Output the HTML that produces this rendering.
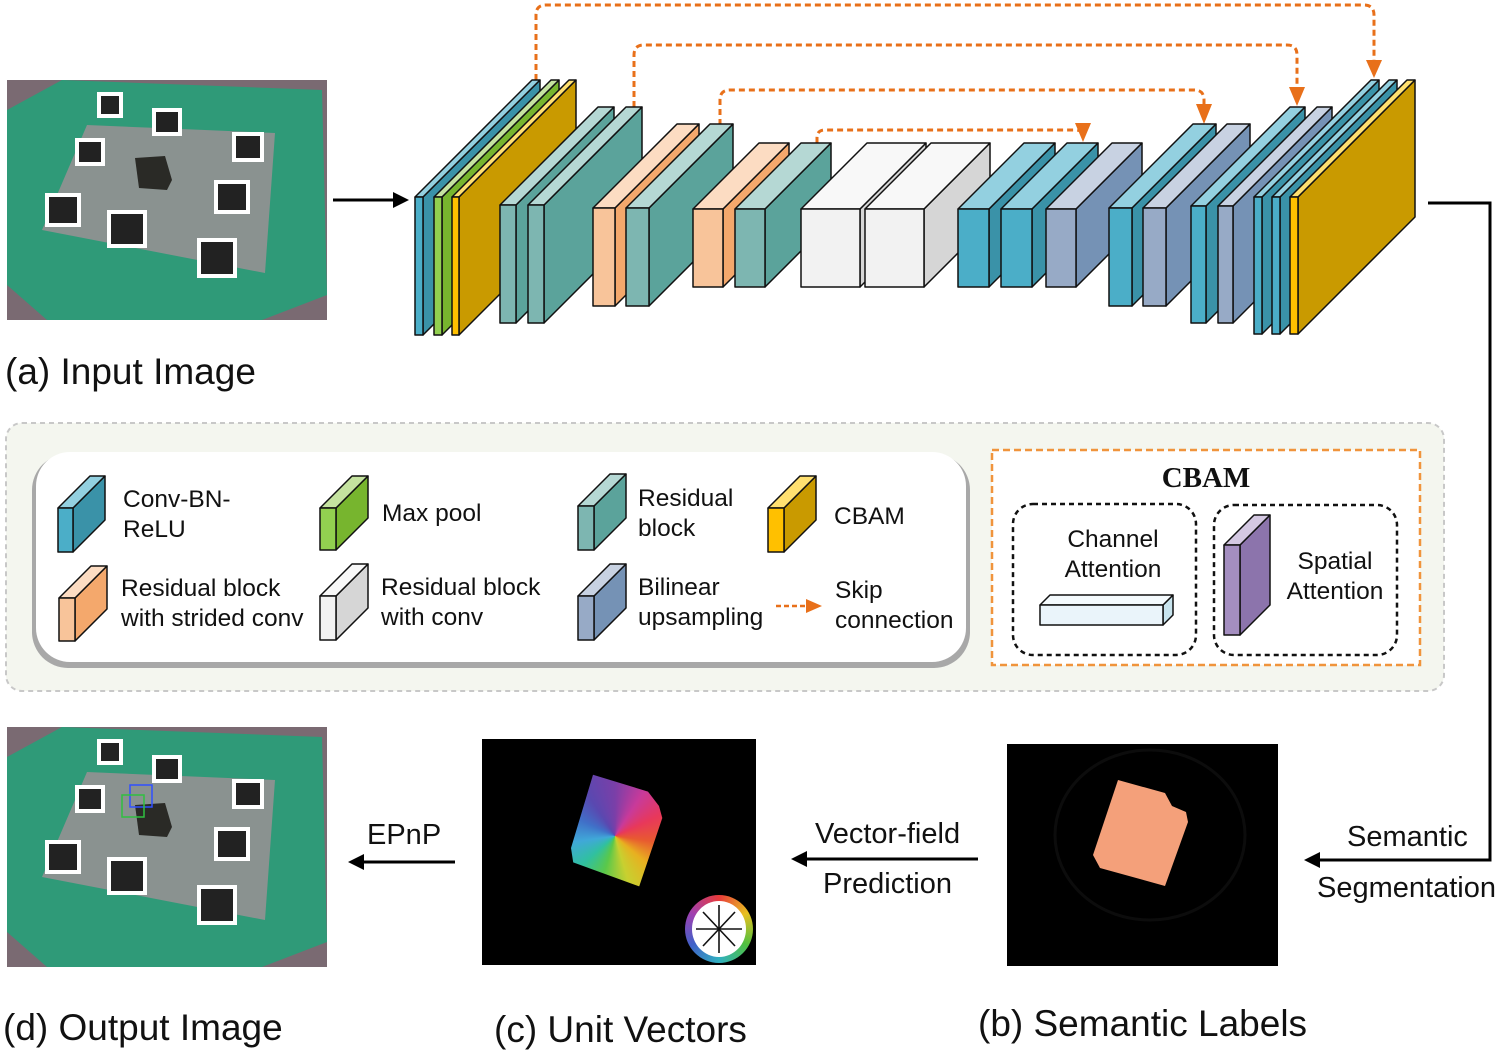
<!DOCTYPE html>
<html><head><meta charset="utf-8"><style>
html,body{margin:0;padding:0;background:#fff;}
#c{position:relative;width:1500px;height:1052px;overflow:hidden;font-family:"Liberation Sans",Arial,sans-serif;}
svg{position:absolute;left:0;top:0;}
.uv{position:absolute;left:560px;top:770px;width:110px;height:120px;background:conic-gradient(from 0deg at 50% 55%,#7a3fa8,#c83a9a,#e8385a,#e85a30,#e8b020,#c8d030,#5ac84a,#30c0a0,#40a8d8,#4070c8,#5a48b0,#7a3fa8);clip-path:polygon(30% 4%,80% 18%,90% 30%,93% 40%,72% 97%,12% 77%,10% 65%);}
.wheel{position:absolute;left:685px;top:895px;width:68px;height:68px;border-radius:50%;background:conic-gradient(#e83a3a,#e8c020,#50c040,#30b0c0,#4060c8,#a040b0,#e83a3a);}
.wheel div{position:absolute;left:7px;top:6px;width:54px;height:56px;border-radius:50%;background:#fff;}
.k rect{stroke:#111;stroke-width:1.5;stroke-linejoin:round;vector-effect:non-scaling-stroke;}
.b .f{fill:#4BAEC8}.b .s{fill:#3A92A8}.b .t{fill:#93D0E0}
.g .f{fill:#92D050}.g .s{fill:#77B52E}.g .t{fill:#C5E3A0}
.y .f{fill:#FFC000}.y .s{fill:#C99A00}.y .t{fill:#FFE070}
.e .f{fill:#7DB6B1}.e .s{fill:#5BA39B}.e .t{fill:#B5D8D4}
.o .f{fill:#F8C49A}.o .s{fill:#F4A86C}.o .t{fill:#FCDCC2}
.w .f{fill:#F2F2F2}.w .s{fill:#D6D6D6}.w .t{fill:#F8F8F8}
.l .f{fill:#97AAC6}.l .s{fill:#7592B5}.l .t{fill:#C8D2E2}
.p .f{fill:#A48EC0}.p .s{fill:#8C74AC}.p .t{fill:#D4C8E2}
.c .f{fill:#EAF4FA}.c .s{fill:#C8E4EE}.c .t{fill:#F4FAFD}
</style></head><body><div id="c">
<svg width="1500" height="1052" viewBox="0 0 1500 1052" xmlns="http://www.w3.org/2000/svg">
<defs>
<marker id="ah" markerWidth="16" markerHeight="16" refX="12" refY="8" orient="auto" markerUnits="userSpaceOnUse"><path d="M0,0 L16,8 L0,16 z" fill="#000"/></marker>
<g id="photo">
<rect x="0" y="0" width="320" height="240" fill="#7a6a72"/>
<polygon points="55,0 315,10 320,215 255,240 40,240 0,205 0,30" fill="#2f9a78"/>
<polygon points="80,45 268,53 258,193 35,150" fill="#8a9290"/>
<rect x="90" y="12" width="26" height="26" fill="#fff"/><rect x="94" y="16" width="18" height="18" fill="#222"/>
<rect x="145" y="28" width="30" height="28" fill="#fff"/><rect x="149" y="32" width="22" height="20" fill="#222"/>
<rect x="225" y="52" width="32" height="30" fill="#fff"/><rect x="229" y="56" width="24" height="22" fill="#222"/>
<rect x="68" y="58" width="30" height="28" fill="#fff"/><rect x="72" y="62" width="22" height="20" fill="#222"/>
<rect x="207" y="100" width="36" height="34" fill="#fff"/><rect x="211" y="104" width="28" height="26" fill="#222"/>
<rect x="38" y="113" width="36" height="34" fill="#fff"/><rect x="42" y="117" width="28" height="26" fill="#222"/>
<rect x="100" y="130" width="40" height="38" fill="#fff"/><rect x="104" y="134" width="32" height="30" fill="#222"/>
<rect x="190" y="158" width="40" height="40" fill="#fff"/><rect x="194" y="162" width="32" height="32" fill="#222"/>
<polygon points="128,78 158,76 165,100 160,110 132,108" fill="#2a2a26"/>
</g>
</defs>

<use href="#photo" x="7" y="80"/>
<use href="#photo" x="7" y="727"/>
<rect x="130" y="785" width="22" height="22" fill="none" stroke="#3050ff" stroke-width="1.5"/>
<rect x="122" y="795" width="22" height="22" fill="none" stroke="#30c040" stroke-width="1.5"/>

<g fill="none" stroke="#E8701A" stroke-width="3" stroke-dasharray="6,4">
<path d="M536,80 V15 Q536,5 546,5 H1364 Q1374,5 1374,15 V62"/>
<path d="M634,107 V55 Q634,45 644,45 H1287 Q1297,45 1297,55 V90"/>
<path d="M720,125 V100 Q720,90 730,90 H1194 Q1204,90 1204,100 V108"/>
<path d="M817,143 V138 Q817,130 825,130 H1075 Q1083,130 1083,136"/>
</g>
<g fill="#E8701A">
<polygon points="1366,60 1382,60 1374,78"/>
<polygon points="1289,87 1305,87 1297,106"/>
<polygon points="1196,104 1212,104 1204,124"/>
<polygon points="1075,123 1091,123 1083,142"/>
</g>

<g class="k">
<g class="b" transform="translate(415,197)"><rect class="s" transform="translate(8,0) skewY(-45)" width="117" height="138"/><rect class="t" transform="skewX(-45)" y="-117" width="8" height="117"/><rect class="f" width="8" height="138"/></g>
<g class="g" transform="translate(434,197)"><rect class="s" transform="translate(8,0) skewY(-45)" width="117" height="138"/><rect class="t" transform="skewX(-45)" y="-117" width="8" height="117"/><rect class="f" width="8" height="138"/></g>
<g class="y" transform="translate(452,197)"><rect class="s" transform="translate(7,0) skewY(-45)" width="117" height="138"/><rect class="t" transform="skewX(-45)" y="-117" width="7" height="117"/><rect class="f" width="7" height="138"/></g>
<g class="e" transform="translate(500,205)"><rect class="s" transform="translate(16,0) skewY(-45)" width="98" height="118"/><rect class="t" transform="skewX(-45)" y="-98" width="16" height="98"/><rect class="f" width="16" height="118"/></g>
<g class="e" transform="translate(528,205)"><rect class="s" transform="translate(16,0) skewY(-45)" width="98" height="118"/><rect class="t" transform="skewX(-45)" y="-98" width="16" height="98"/><rect class="f" width="16" height="118"/></g>
<g class="o" transform="translate(593,208)"><rect class="s" transform="translate(22,0) skewY(-45)" width="84" height="98"/><rect class="t" transform="skewX(-45)" y="-84" width="22" height="84"/><rect class="f" width="22" height="98"/></g>
<g class="e" transform="translate(626,208)"><rect class="s" transform="translate(23,0) skewY(-45)" width="84" height="98"/><rect class="t" transform="skewX(-45)" y="-84" width="23" height="84"/><rect class="f" width="23" height="98"/></g>
<g class="o" transform="translate(693,209)"><rect class="s" transform="translate(30,0) skewY(-45)" width="66" height="78"/><rect class="t" transform="skewX(-45)" y="-66" width="30" height="66"/><rect class="f" width="30" height="78"/></g>
<g class="e" transform="translate(735,209)"><rect class="s" transform="translate(30,0) skewY(-45)" width="66" height="78"/><rect class="t" transform="skewX(-45)" y="-66" width="30" height="66"/><rect class="f" width="30" height="78"/></g>
<g class="w" transform="translate(801,209)"><rect class="s" transform="translate(59,0) skewY(-45)" width="66" height="78"/><rect class="t" transform="skewX(-45)" y="-66" width="59" height="66"/><rect class="f" width="59" height="78"/></g>
<g class="w" transform="translate(865,209)"><rect class="s" transform="translate(59,0) skewY(-45)" width="66" height="78"/><rect class="t" transform="skewX(-45)" y="-66" width="59" height="66"/><rect class="f" width="59" height="78"/></g>
<g class="b" transform="translate(958,209)"><rect class="s" transform="translate(31,0) skewY(-45)" width="66" height="78"/><rect class="t" transform="skewX(-45)" y="-66" width="31" height="66"/><rect class="f" width="31" height="78"/></g>
<g class="b" transform="translate(1001,209)"><rect class="s" transform="translate(31,0) skewY(-45)" width="66" height="78"/><rect class="t" transform="skewX(-45)" y="-66" width="31" height="66"/><rect class="f" width="31" height="78"/></g>
<g class="l" transform="translate(1046,209)"><rect class="s" transform="translate(30,0) skewY(-45)" width="66" height="78"/><rect class="t" transform="skewX(-45)" y="-66" width="30" height="66"/><rect class="f" width="30" height="78"/></g>
<g class="b" transform="translate(1109,208)"><rect class="s" transform="translate(23,0) skewY(-45)" width="84" height="98"/><rect class="t" transform="skewX(-45)" y="-84" width="23" height="84"/><rect class="f" width="23" height="98"/></g>
<g class="l" transform="translate(1143,208)"><rect class="s" transform="translate(23,0) skewY(-45)" width="84" height="98"/><rect class="t" transform="skewX(-45)" y="-84" width="23" height="84"/><rect class="f" width="23" height="98"/></g>
<g class="b" transform="translate(1191,206)"><rect class="s" transform="translate(15,0) skewY(-45)" width="99" height="117"/><rect class="t" transform="skewX(-45)" y="-99" width="15" height="99"/><rect class="f" width="15" height="117"/></g>
<g class="l" transform="translate(1218,206)"><rect class="s" transform="translate(15,0) skewY(-45)" width="99" height="117"/><rect class="t" transform="skewX(-45)" y="-99" width="15" height="99"/><rect class="f" width="15" height="117"/></g>
<g class="b" transform="translate(1254,197)"><rect class="s" transform="translate(8,0) skewY(-45)" width="117" height="137"/><rect class="t" transform="skewX(-45)" y="-117" width="8" height="117"/><rect class="f" width="8" height="137"/></g>
<g class="b" transform="translate(1272,197)"><rect class="s" transform="translate(8,0) skewY(-45)" width="117" height="137"/><rect class="t" transform="skewX(-45)" y="-117" width="8" height="117"/><rect class="f" width="8" height="137"/></g>
<g class="y" transform="translate(1290,197)"><rect class="s" transform="translate(8,0) skewY(-45)" width="117" height="137"/><rect class="t" transform="skewX(-45)" y="-117" width="8" height="117"/><rect class="f" width="8" height="137"/></g>
</g>

<line x1="333" y1="200" x2="405" y2="200" stroke="#000" stroke-width="3" marker-end="url(#ah)"/>
<polyline points="1428,203 1490,203 1490,860 1308,860" fill="none" stroke="#000" stroke-width="3" marker-end="url(#ah)"/>
<line x1="978" y1="859" x2="795" y2="859" stroke="#000" stroke-width="3" marker-end="url(#ah)"/>
<line x1="455" y1="862" x2="352" y2="862" stroke="#000" stroke-width="3" marker-end="url(#ah)"/>

<rect x="6" y="423" width="1438" height="268" rx="16" fill="#f4f6ef" stroke="#c8c8c8" stroke-width="2" stroke-dasharray="5,4"/>
<rect x="32" y="454" width="938" height="214" rx="36" fill="#a8a8a8"/>
<rect x="36" y="452" width="930" height="210" rx="34" fill="#fff"/>
<rect x="992" y="450" width="428" height="215" fill="#fff" stroke="#F0943C" stroke-width="2.5" stroke-dasharray="7,4"/>
<rect x="1013" y="504" width="183" height="151" rx="20" fill="none" stroke="#111" stroke-width="2.5" stroke-dasharray="5,4"/>
<rect x="1214" y="505" width="183" height="150" rx="20" fill="none" stroke="#111" stroke-width="2.5" stroke-dasharray="5,4"/>
<g class="k">
<g class="b" transform="translate(58,508)"><rect class="s" transform="translate(15,0) skewY(-45)" width="32" height="44"/><rect class="t" transform="skewX(-45)" y="-32" width="15" height="32"/><rect class="f" width="15" height="44"/></g>
<g class="g" transform="translate(320,508)"><rect class="s" transform="translate(16,0) skewY(-45)" width="32" height="42"/><rect class="t" transform="skewX(-45)" y="-32" width="16" height="32"/><rect class="f" width="16" height="42"/></g>
<g class="e" transform="translate(578,506)"><rect class="s" transform="translate(16,0) skewY(-45)" width="32" height="44"/><rect class="t" transform="skewX(-45)" y="-32" width="16" height="32"/><rect class="f" width="16" height="44"/></g>
<g class="y" transform="translate(768,508)"><rect class="s" transform="translate(16,0) skewY(-45)" width="32" height="44"/><rect class="t" transform="skewX(-45)" y="-32" width="16" height="32"/><rect class="f" width="16" height="44"/></g>
<g class="o" transform="translate(59,598)"><rect class="s" transform="translate(16,0) skewY(-45)" width="32" height="43"/><rect class="t" transform="skewX(-45)" y="-32" width="16" height="32"/><rect class="f" width="16" height="43"/></g>
<g class="w" transform="translate(320,596)"><rect class="s" transform="translate(16,0) skewY(-45)" width="32" height="44"/><rect class="t" transform="skewX(-45)" y="-32" width="16" height="32"/><rect class="f" width="16" height="44"/></g>
<g class="l" transform="translate(578,596)"><rect class="s" transform="translate(16,0) skewY(-45)" width="32" height="44"/><rect class="t" transform="skewX(-45)" y="-32" width="16" height="32"/><rect class="f" width="16" height="44"/></g>
<g class="p" transform="translate(1224,545)"><rect class="s" transform="translate(16,0) skewY(-45)" width="30" height="90"/><rect class="t" transform="skewX(-45)" y="-30" width="16" height="30"/><rect class="f" width="16" height="90"/></g>
<g class="c" transform="translate(1040,605)"><rect class="s" transform="translate(123,0) skewY(-45)" width="10" height="20"/><rect class="t" transform="skewX(-45)" y="-10" width="123" height="10"/><rect class="f" width="123" height="20"/></g>
</g>
<line x1="776" y1="606" x2="808" y2="606" stroke="#E8701A" stroke-width="2.5" stroke-dasharray="5,3"/>
<polygon points="806,599 822,606 806,613" fill="#E8701A"/>

<g font-family="Liberation Sans, Arial, sans-serif" font-size="24.5" fill="#111">
<text x="123" y="507">Conv-BN-</text><text x="123" y="537">ReLU</text>
<text x="382" y="521">Max pool</text>
<text x="638" y="506">Residual</text><text x="638" y="536">block</text>
<text x="834" y="524">CBAM</text>
<text x="121" y="596">Residual block</text><text x="121" y="626">with strided conv</text>
<text x="381" y="595">Residual block</text><text x="381" y="625">with conv</text>
<text x="638" y="595">Bilinear</text><text x="638" y="625">upsampling</text>
<text x="835" y="598">Skip</text><text x="835" y="628">connection</text>
<text x="1113" y="547" text-anchor="middle">Channel</text><text x="1113" y="577" text-anchor="middle">Attention</text>
<text x="1335" y="569" text-anchor="middle">Spatial</text><text x="1335" y="599" text-anchor="middle">Attention</text>
</g>
<text x="1206" y="487" text-anchor="middle" font-family="Liberation Serif, serif" font-weight="bold" font-size="29" fill="#111">CBAM</text>

<rect x="482" y="739" width="274" height="226" fill="#000"/>
<rect x="1007" y="744" width="271" height="222" fill="#000"/>
<ellipse cx="1150" cy="835" rx="95" ry="85" fill="none" stroke="#0c0c0c" stroke-width="3"/>
<polygon points="1118,780 1165,793 1172,806 1186,812 1188,822 1165,886 1100,868 1093,855" fill="#F4A07A"/>

<g font-family="Liberation Sans, Arial, sans-serif" fill="#111">
<text x="5" y="384" font-size="37">(a) Input Image</text>
<text x="3" y="1040" font-size="37">(d) Output Image</text>
<text x="494" y="1042" font-size="37">(c) Unit Vectors</text>
<text x="978" y="1036" font-size="37">(b) Semantic Labels</text>
<text x="367" y="844" font-size="29">EPnP</text>
<text x="815" y="843" font-size="29">Vector-field</text>
<text x="823" y="893" font-size="29">Prediction</text>
<text x="1347" y="846" font-size="29">Semantic</text>
<text x="1317" y="897" font-size="29">Segmentation</text>
</g>
</svg>
<div class="uv"></div>
<div class="wheel"><div></div></div>
<svg width="1500" height="1052">
<g stroke="#111" stroke-width="1.6" fill="none">
<line x1="719" y1="905" x2="719" y2="953"/><line x1="696" y1="929" x2="742" y2="929"/>
<line x1="703" y1="912" x2="735" y2="946"/><line x1="735" y1="912" x2="703" y2="946"/>
</g>
</svg>
</div>
</body></html>
